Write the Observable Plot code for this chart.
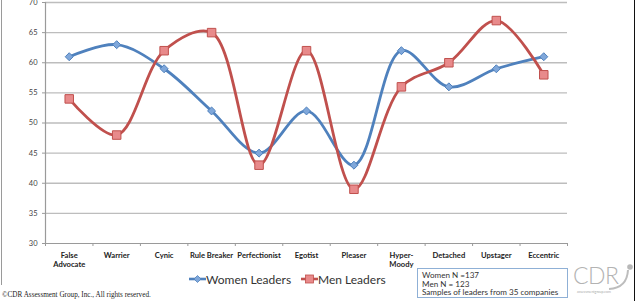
<!DOCTYPE html>
<html>
<head>
<meta charset="utf-8">
<script src="https://cdn.jsdelivr.net/npm/d3@7"></script>
<script src="https://cdn.jsdelivr.net/npm/@observablehq/plot@0.6"></script>
<style>
  html, body { margin: 0; padding: 0; background: #fff; }
  #wrap { position: relative; width: 639px; height: 301px; overflow: hidden; background: #fff; }
  #wrap > svg { position: absolute; left: 0; top: 0; }
  .abs { position: absolute; white-space: nowrap; }
  .abs svg { position: static; }
</style>
</head>
<body>
<div id="wrap"></div>
<script>
const categories = ["False Advocate","Warrier","Cynic","Rule Breaker","Perfectionist","Egotist","Pleaser","Hyper-Moody","Detached","Upstager","Eccentric"];
const categoryLabels = ["False\nAdvocate","Warrier","Cynic","Rule Breaker","Perfectionist","Egotist","Pleaser","Hyper-\nMoody","Detached","Upstager","Eccentric"];
const women = [61,63,59,52,45,52,43,62,56,59,61];
const men = [54,48,62,65,43,62,39,56,60,67,58];
const yTicks = [30,35,40,45,50,55,60,65,70];
const seriesNames = ["Women Leaders","Men Leaders"];
const noteLines = ["Women N =137","Men N = 123","Samples of leaders from 35 companies"];
const copyright = "©CDR Assessment Group, Inc., All rights reserved.";

const n = categories.length;
const data = categories.map((c, i) => ({i, c, women: women[i], men: men[i]}));
const bounds = d3.range(n + 1).map(i => i - 0.5);
const blue = "#4F81BD", blueFill = "#7FA7DA", red = "#C0504D", redFill = "#E88A8B";

const chart = Plot.plot({
  width: 639, height: 301,
  marginLeft: 45, marginRight: 72, marginTop: 2, marginBottom: 58,
  x: {domain: [-0.5, n - 0.5]},
  y: {domain: [30, 70]},
  style: {fontFamily: "Lato, sans-serif", background: "transparent", overflow: "visible"},
  marks: [
    Plot.gridY(yTicks.slice(1), {stroke: "#bdbdbd", strokeOpacity: 1, strokeWidth: 1.3}),
    Plot.ruleX([-0.5], {stroke: "#9a9a9a", strokeWidth: 1.2}),
    Plot.ruleY([30], {stroke: "#9a9a9a", strokeWidth: 1.2}),
    Plot.axisY(yTicks, {tickSize: 3, tickPadding: 5, fontSize: 7.5, stroke: "#9a9a9a", fill: "#444", label: null}),
    Plot.axisX(bounds, {tickSize: 3, tickFormat: () => "", stroke: "#9a9a9a", label: null}),
    Plot.axisX(d3.range(n), {tickSize: 0, tickPadding: 7, tickFormat: i => categoryLabels[i], fontWeight: "bold", fontSize: 7.6, lineHeight: 1.3, fill: "#222", label: null}),
    Plot.line(data, {x: "i", y: "women", curve: "catmull-rom", stroke: blue, strokeWidth: 2.8}),
    Plot.line(data, {x: "i", y: "men", curve: "catmull-rom", stroke: red, strokeWidth: 2.8}),
    Plot.dot(data, {x: "i", y: "women", symbol: "diamond2", r: 3.6, fill: blueFill, stroke: blue, strokeWidth: 1}),
    Plot.dot(data, {x: "i", y: "men", symbol: "square", r: 4.8, fill: redFill, stroke: red, strokeWidth: 1})
  ]
});
const wrap = document.getElementById("wrap");
wrap.appendChild(chart);

function add(html, style) {
  const d = document.createElement("div");
  d.className = "abs";
  Object.assign(d.style, style);
  d.innerHTML = html;
  wrap.appendChild(d);
  return d;
}
// frame lines
add("", {left: "1px", top: "0px", width: "0px", height: "285px", borderLeft: "1.5px solid #9a9a9a"});
add("", {left: "634px", top: "0px", width: "0px", height: "301px", borderLeft: "1.5px solid #111"});

// legend
const legSym = (c, f, shape) => `<svg width="17" height="10" style="vertical-align:0px">
  <line x1="0" y1="5" x2="17" y2="5" stroke="${c}" stroke-width="2.6"/>
  ${shape === "d" ? `<path d="M8.5,1.5 L12,5 L8.5,8.5 L5,5 Z" fill="${f}" stroke="${c}" stroke-width="0.8"/>`
                  : `<rect x="4.5" y="1" width="8" height="8" fill="${f}" stroke="${c}" stroke-width="0.8"/>`}
</svg>`;
add(legSym(blue, blueFill, "d") + `<span>${seriesNames[0]}</span>`,
    {left: "189px", top: "272px", fontFamily: "Lato, sans-serif", fontSize: "12px", color: "#333"});
add(legSym(red, redFill, "s") + `<span>${seriesNames[1]}</span>`,
    {left: "301px", top: "272px", fontFamily: "Lato, sans-serif", fontSize: "12px", color: "#333"});

// note box
add(noteLines.map(t => `<div>${t}</div>`).join(""),
    {left: "417px", top: "268px", width: "145px", height: "26px", border: "1px solid #8fb0d6",
     padding: "2px 0 0 4px", fontFamily: "Lato, sans-serif", fontSize: "8.1px", lineHeight: "8.7px", color: "#333", background: "#fff", overflow: "visible"});

// logo
add(`CDR`,
    {left: "573px", top: "266px", fontFamily: "Lato, sans-serif", fontSize: "23px", lineHeight: "18px", color: "#b3b3b3", fontWeight: "300", letterSpacing: "-0.5px"});
add("assessmentgroup.com", {left: "577px", top: "289.5px", fontFamily: "Lato, sans-serif", fontSize: "3.5px", lineHeight: "5px", color: "#aaa"});
add(`<svg width="30" height="30"><path d="M4,27 Q22,26 23,8" fill="none" stroke="#bdbdbd" stroke-width="2"/><circle cx="25" cy="5" r="2.8" fill="#b8b8b8"/></svg>`,
    {left: "605px", top: "262px", lineHeight: "0"});

// copyright
add(copyright, {left: "2px", top: "291px", fontFamily: "'Liberation Serif', serif", fontSize: "7.2px", color: "#222"});
</script>
</body>
</html>
